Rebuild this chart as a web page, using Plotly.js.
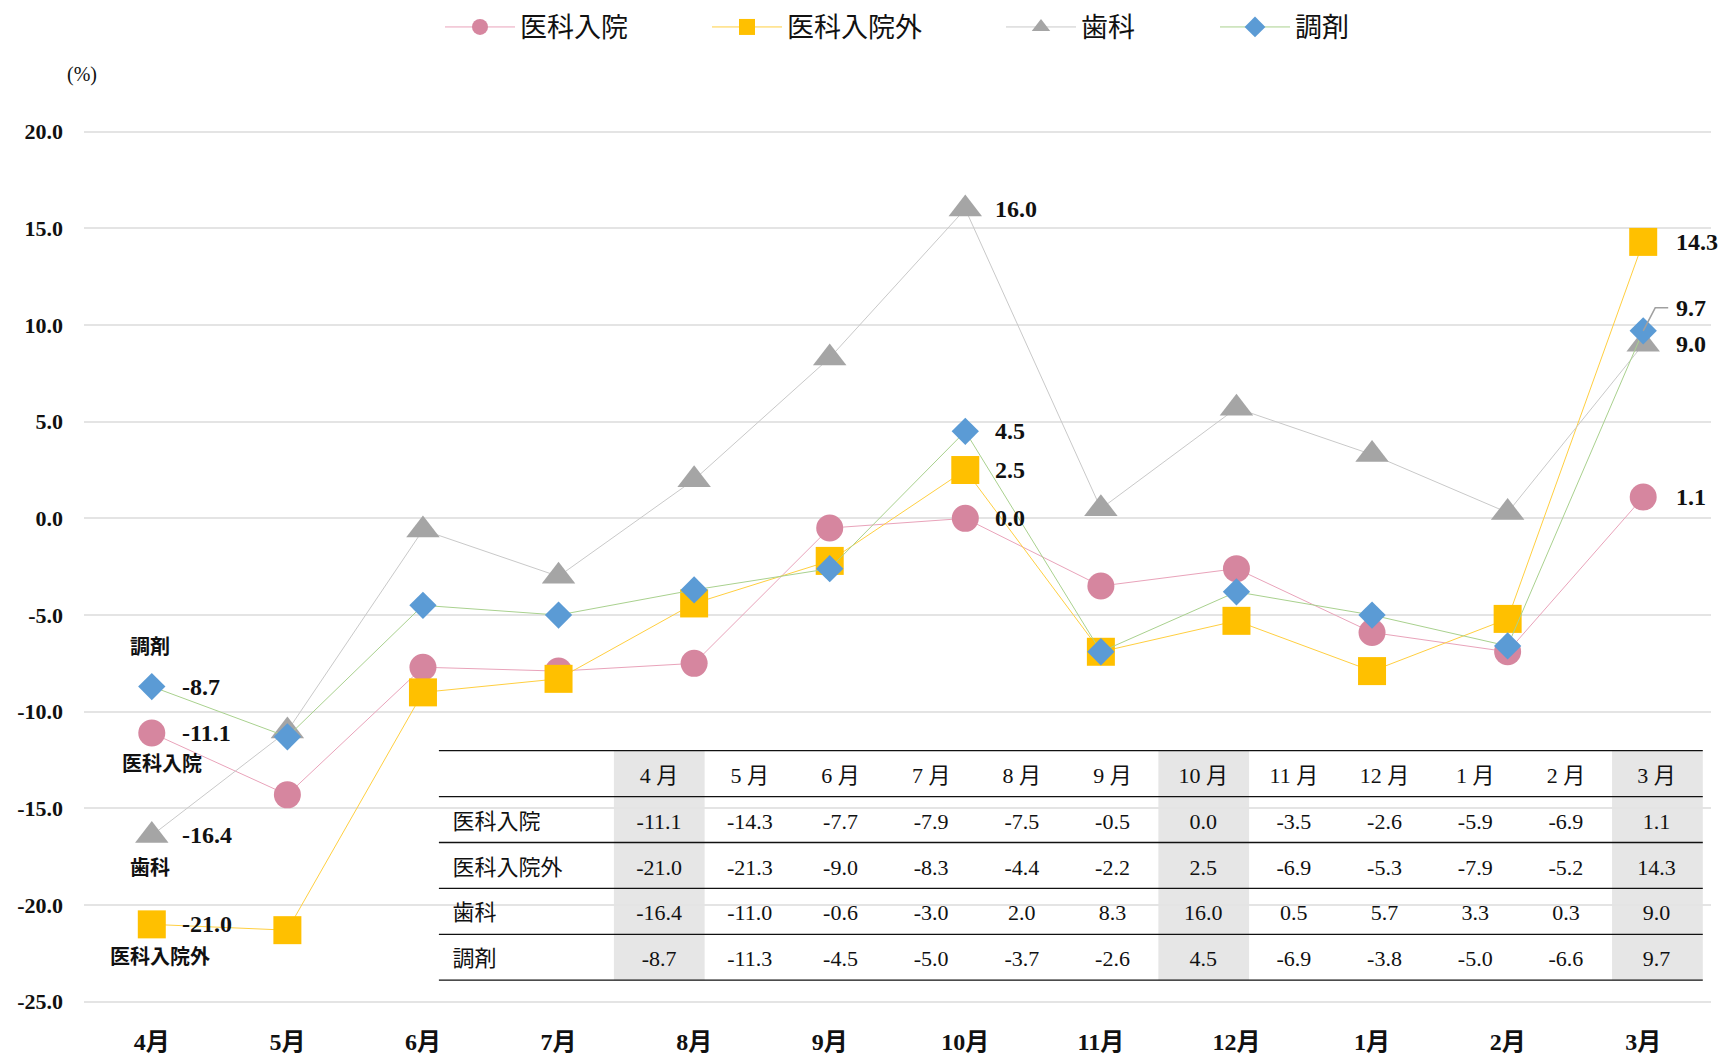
<!DOCTYPE html>
<html>
<head>
<meta charset="utf-8">
<script src="https://cdn.plot.ly/plotly-3.0.1.min.js"></script>
<style>html,body{margin:0;padding:0;background:#fff;}</style>
</head>
<body>
<div id="chart" style="width:1720px;height:1058px;"></div>
<script>
// ---- data ----
const months = ["4月","5月","6月","7月","8月","9月","10月","11月","12月","1月","2月","3月"];
const tableMonths = ["4 月","5 月","6 月","7 月","8 月","9 月","10 月","11 月","12 月","1 月","2 月","3 月"];
const seriesNames = ["医科入院","医科入院外","歯科","調剤"];
const ikaNyuin    = [-11.1,-14.3,-7.7,-7.9,-7.5,-0.5,0.0,-3.5,-2.6,-5.9,-6.9,1.1];
const ikaNyuinGai = [-21.0,-21.3,-9.0,-8.3,-4.4,-2.2,2.5,-6.9,-5.3,-7.9,-5.2,14.3];
const shika       = [-16.4,-11.0,-0.6,-3.0,2.0,8.3,16.0,0.5,5.7,3.3,0.3,9.0];
const chozai      = [-8.7,-11.3,-4.5,-5.0,-3.7,-2.6,4.5,-6.9,-3.8,-5.0,-6.6,9.7];
const yTickVals = [20,15,10,5,0,-5,-10,-15,-20,-25];
const yTickText = ["20.0","15.0","10.0","5.0","0.0","-5.0","-10.0","-15.0","-20.0","-25.0"];
const highlightMonths = ["4月","10月","3月"];

const allSeries = [ikaNyuin, ikaNyuinGai, shika, chozai];
const markerColors = ["#D6869F","#FFC000","#A5A5A5","#5B9BD5"];
const lineColors = ["#E9A3BA","#FFCF40","#C9C9C9","#A9D18E"];
const symbols = ["circle","square","triangle-up","diamond"];
const sizes = [27,28,29,21];
const legendIds = ["legend","legend2","legend3","legend4"];

const FONT = '"Liberation Serif", "Noto Sans CJK JP", serif';

// plot area geometry (pixels)
const PL = 84, PR = 1711, PT = 120, PB = 1013;
const PW = PR - PL, PH = PB - PT;
const px2x = p => (p - PL) / PW;
const py2y = p => (PB - p) / PH;

const traces = allSeries.map((vals, i) => ({
  type: "scatter",
  mode: "lines+markers",
  name: seriesNames[i],
  x: months,
  y: vals,
  legend: legendIds[i],
  line: {color: lineColors[i], width: 1},
  marker: {color: markerColors[i], symbol: symbols[i], size: sizes[i], line: {width: 0}},
  cliponaxis: false,
  hoverinfo: "skip"
}));

// ---- table ----
const fmt = v => v.toFixed(1);
const TBL_L = 438.9, TBL_R = 1702.8, TBL_T = 750.7, ROW_H = 45.9;
const firstColW = 175;
const colW = (TBL_R - TBL_L - firstColW) / months.length;
const TXT_DROP = 7.5; // table text sits this much lower than the row grid
const cellValues = [seriesNames].concat(months.map((m, i) => allSeries.map(s => fmt(s[i]))));
const headerValues = [""].concat(tableMonths);
const tblBottom = TBL_T + ROW_H * 5;

traces.push({
  type: "table",
  domain: {x: [px2x(TBL_L), px2x(TBL_R)], y: [py2y(tblBottom + TXT_DROP), py2y(TBL_T + TXT_DROP)]},
  columnwidth: [firstColW].concat(months.map(() => colW)),
  header: {
    values: headerValues,
    align: "center",
    height: ROW_H,
    fill: {color: "rgba(0,0,0,0)"},
    line: {width: 0, color: "rgba(0,0,0,0)"},
    font: {family: FONT, size: 22, color: "#111"}
  },
  cells: {
    values: cellValues,
    align: ["left"].concat(months.map(() => "center")),
    prefix: ["\u00A0"].concat(months.map(() => "")),
    height: ROW_H,
    fill: {color: "rgba(0,0,0,0)"},
    line: {width: 0, color: "rgba(0,0,0,0)"},
    font: {family: FONT, size: 22, color: "#111"}
  }
});

// ---- annotations ----
const ann = [];
function valLabel(xi, series, extra) {
  ann.push(Object.assign({
    x: months[xi], y: series[xi], xref: "x", yref: "y",
    text: fmt(series[xi]), showarrow: false,
    xanchor: "left", yanchor: "middle", xshift: 28,
    font: {family: FONT, size: 24, color: "#111", weight: "bold"}
  }, extra || {}));
}
function nameLabel(xi, sIdx, xs, ys) {
  ann.push({
    x: months[xi], y: allSeries[sIdx][xi], xref: "x", yref: "y",
    text: seriesNames[sIdx], showarrow: false,
    xanchor: "center", yanchor: "middle", xshift: xs, yshift: ys,
    font: {family: FONT, size: 20, color: "#111", weight: "bold"}
  });
}
// 4月
[0,1,2,3].forEach(s => valLabel(0, allSeries[s]));
nameLabel(0, 3, -2, 40);
nameLabel(0, 0, 10, -31);
nameLabel(0, 2, -2, -33);
nameLabel(0, 1, 8, -33);
// 10月
[0,1,2,3].forEach(s => valLabel(6, allSeries[s]));
// 3月
valLabel(11, ikaNyuin, {xshift: 31});
valLabel(11, ikaNyuinGai, {xshift: 31});
valLabel(11, shika, {xshift: 31});
valLabel(11, chozai, {xshift: 31, yshift: 23});
// (%) unit
ann.push({xref: "paper", yref: "paper", x: px2x(82), y: py2y(75),
  text: "(%)", showarrow: false, xanchor: "center", yanchor: "middle",
  font: {family: FONT, size: 20, color: "#111"}});

// ---- shapes ----
const shapes = [];
// white panel behind the data table
shapes.push({type: "rect", xref: "paper", yref: "paper", layer: "between",
  x0: px2x(420), x1: 1, y0: py2y(990), y1: py2y(740),
  fillcolor: "#FFFFFF", line: {width: 0}});
// shaded month columns
highlightMonths.forEach(m => {
  const i = months.indexOf(m);
  const x0 = TBL_L + firstColW + colW * i;
  shapes.push({type: "rect", xref: "paper", yref: "paper", layer: "between",
    x0: px2x(x0), x1: px2x(x0 + colW), y0: py2y(tblBottom), y1: py2y(TBL_T),
    fillcolor: "#E6E6E6", line: {width: 0}});
});
// horizontal rules
for (let r = 0; r <= 5; r++) {
  const py = TBL_T + ROW_H * r;
  shapes.push({type: "line", xref: "paper", yref: "paper", layer: "above",
    x0: px2x(TBL_L), x1: px2x(TBL_R), y0: py2y(py), y1: py2y(py),
    line: {color: "#111", width: 1.3}});
}
// leader line for 3月 調剤 label
shapes.push({type: "path", layer: "above",
  xref: "x", yref: "y", xsizemode: "pixel", ysizemode: "pixel",
  xanchor: "3月", yanchor: chozai[11],
  path: "M0,0 L12,23 L25,23",
  line: {color: "#A0A0A0", width: 1.5}});

// ---- legends ----
const legendX = [440, 707, 1001, 1215];
const legends = {};
legendIds.forEach((id, i) => {
  legends[id] = {
    orientation: "h", xref: "container", yref: "container",
    x: legendX[i] / 1720, y: 1 - 27.4 / 1058, xanchor: "left", yanchor: "middle",
    font: {family: FONT, size: 27, color: "#111"},
    itemwidth: 70, bgcolor: "rgba(0,0,0,0)", borderwidth: 0
  };
});

const layout = Object.assign({
  width: 1720, height: 1058,
  margin: {l: PL, r: 1720 - PR, t: PT, b: 1058 - PB},
  paper_bgcolor: "#FFFFFF", plot_bgcolor: "#FFFFFF",
  showlegend: true,
  font: {family: FONT, color: "#111"},
  xaxis: {
    type: "category", range: [-0.5, 11.5], showgrid: false, zeroline: false, showline: false,
    ticks: "", ticklabelstandoff: 12,
    tickfont: {family: FONT, size: 24, color: "#111", weight: "bold"}
  },
  yaxis: {
    range: [-25.584, 20.605], tickvals: yTickVals, ticktext: yTickText,
    showgrid: true, gridcolor: "#E4E4E4", gridwidth: 2, zeroline: false, showline: false,
    ticks: "", ticklabelstandoff: 20,
    tickfont: {family: FONT, size: 22, color: "#111", weight: "bold"}
  },
  annotations: ann,
  shapes: shapes
}, legends);

Plotly.newPlot("chart", traces, layout, {staticPlot: true, displayModeBar: false});
</script>
</body>
</html>
